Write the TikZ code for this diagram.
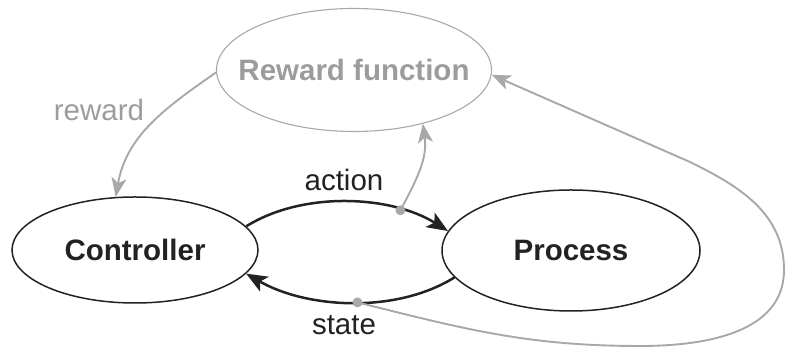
\documentclass[tikz,border=0pt]{standalone}
\usepackage{fontspec}
\setmainfont{Liberation Sans}
\usetikzlibrary{arrows.meta,shapes.geometric}
\definecolor{inkdark}{HTML}{222222}
\definecolor{greyline}{HTML}{A8A8A8}
\definecolor{greytext}{HTML}{9C9C9C}
\begin{document}
\begin{tikzpicture}[x=1pt,y=1pt,
  bigfont/.style={font=\fontsize{29.5}{34}\selectfont},
  blockell/.style={ellipse, draw=inkdark, line width=1.5pt, inner sep=0pt,
    text=inkdark, font=\fontsize{29.5}{34}\selectfont\bfseries},
  rewardell/.style={ellipse, draw=greyline, line width=1.1pt, inner sep=0pt,
    text=greytext, font=\fontsize{29.5}{34}\selectfont\bfseries},
  mainflow/.style={draw=inkdark, line width=2.5pt,
    -{Stealth[length=21pt,width=17pt,inset=5pt]}},
  sideflow/.style={draw=greyline, line width=1.9pt,
    -{Stealth[length=19pt,width=15pt,inset=5pt]}},
  tapdot/.style={fill=greyline},
  darklabel/.style={bigfont, text=inkdark, anchor=base, inner sep=0pt},
  greylabel/.style={bigfont, text=greytext, anchor=base, inner sep=0pt}]
\useasboundingbox (0,0) rectangle (786,352);

% the three blocks (text boxed at zero width so the outline keeps its size)
\node[rewardell, minimum width=275pt, minimum height=123pt] (rf) at (354,282)
  {\makebox[0pt]{Reward function}};
\node[blockell, minimum width=246pt, minimum height=106pt] (ctrl) at (135,102)
  {\makebox[0pt]{Controller}};
\node[blockell, minimum width=258pt, minimum height=121pt] (proc) at (571,101.5)
  {\makebox[0pt]{Process}};

% controller <-> process loop
\draw[mainflow] (ctrl.12) to[out=32, in=148, looseness=0.85]
  coordinate[pos=0.75] (adot) (proc.171);
\draw[mainflow] (proc.193) to[out=212, in=-30, looseness=0.85]
  coordinate[pos=0.47] (sdot) (ctrl.-12);

% reward signal
\draw[sideflow] (rf.181) to[out=215, in=80] (ctrl.110);

% taps feeding the reward function
\coordinate (loopbot) at (640,6);
\coordinate (loopright) at (784,82);
\coordinate (loopup) at (690,190);
\draw[sideflow] (adot) to[out=62, in=-82] (rf.-38);
\draw[sideflow] (sdot) to[out=-14, in=180] (loopbot)
  to[out=0, in=-90] (loopright) to[out=90, in=-26] (loopup) -- (rf.-2);
\fill[tapdot] (adot) circle (5);
\fill[tapdot] (sdot) circle (5);

% labels
\node[greylabel] (rlab) at (99,231) {reward};
\node[darklabel] (alab) at (344,161) {action};
\node[darklabel] (slab) at (344,17) {state};
\end{tikzpicture}
\end{document}
